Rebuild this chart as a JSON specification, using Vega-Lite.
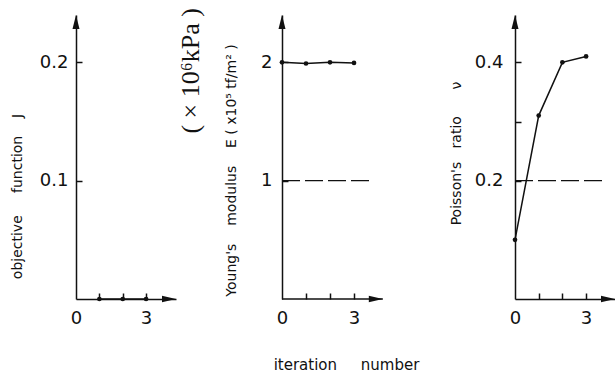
{
  "$schema": "https://vega.github.io/schema/vega-lite/v6.json",
  "padding": {"left": 10, "top": 8, "right": 0, "bottom": 0},
  "background": "white",
  "bounds": "flush",
  "spacing": 106,
  "datasets": {
    "J": [{"iteration": 1, "J": 0}, {"iteration": 2, "J": 0}, {"iteration": 3, "J": 0}],
    "E": [{"iteration": 0, "E": 2.0}, {"iteration": 1, "E": 1.99}, {"iteration": 2, "E": 2.0}, {"iteration": 3, "E": 1.995}],
    "nu": [{"iteration": 0, "nu": 0.10}, {"iteration": 1, "nu": 0.31}, {"iteration": 2, "nu": 0.40}, {"iteration": 3, "nu": 0.41}]
  },
  "config": {
    "view": {"stroke": null},
    "font": "DejaVu Sans",
    "axis": {
      "domainColor": "#111", "domainWidth": 1.5, "tickColor": "#111", "tickWidth": 1.5, "ticks": false, "tickSize": 0,
      "labelColor": "#111", "labelFont": "DejaVu Sans", "labelFontSize": 18,
      "titleColor": "#111", "titleFont": "DejaVu Sans", "titleFontWeight": "normal", "titleFontSize": 14,
      "grid": false, "labelFlush": false, "labelOverlap": false
    }
  },
  "hconcat": [
    {
      "width": 100, "height": 284,
      "resolve": {"axis": {"x": "independent", "y": "independent"}},
      "layer": [
        {
          "data": {"name": "J"},
          "mark": {"type": "line", "color": "#111", "strokeWidth": 1.5},
          "encoding": {
            "x": {"field": "iteration", "type": "quantitative", "scale": {"domain": [0, 4.28], "nice": false},
              "axis": {"orient": "bottom", "values": [0, 1, 2, 3], "labelExpr": "datum.value==0||datum.value==3?datum.label:''", "title": null, "labelPadding": 10}},
            "y": {"field": "J", "type": "quantitative", "scale": {"domain": [0, 0.24], "nice": false},
              "axis": {"orient": "left", "values": [0.1, 0.2], "format": ".1f", "labelPadding": 8,
                "title": "objective\u00a0\u00a0\u00a0\u00a0\u00a0function\u00a0\u00a0\u00a0\u00a0J", "titleX": -59, "titleY": 181, "titleBaseline": "middle", "titleAlign": "center", "titleAngle": -90}}
          }
        },
        {
          "data": {"name": "J"},
          "mark": {"type": "point", "filled": true, "color": "#111", "size": 22, "opacity": 1},
          "encoding": {
            "x": {"field": "iteration", "type": "quantitative",
              "axis": {"orient": "bottom", "offset": -6, "ticks": true, "tickSize": 6, "domain": false, "labels": false, "title": null, "values": [1, 2, 3]}},
            "y": {"field": "J", "type": "quantitative",
              "axis": {"orient": "left", "offset": -6, "ticks": true, "tickSize": 6, "domain": false, "labels": false, "title": null, "values": [0.1, 0.2]}}
          }
        },
        {
          "data": {"values": [{}]},
          "mark": {"type": "point", "shape": "M0,0 L0.5,2 L-0.5,2 Z", "filled": true, "color": "#111", "size": 196, "opacity": 1},
          "encoding": {"x": {"datum": 0, "type": "quantitative", "axis": null}, "y": {"datum": 0.24, "type": "quantitative", "axis": null}}
        },
        {
          "data": {"values": [{}]},
          "mark": {"type": "point", "shape": "M0,0 L-2,-0.45 L-2,0.45 Z", "filled": true, "color": "#111", "size": 196, "opacity": 1},
          "encoding": {"x": {"datum": 4.28, "type": "quantitative", "axis": null}, "y": {"datum": 0, "type": "quantitative", "axis": null}}
        }
      ]
    },
    {
      "width": 127, "height": 284,
      "title": {"text": "( × 10⁶kPa )", "orient": "left", "anchor": "end", "font": "Liberation Serif", "fontSize": 26, "fontWeight": "normal", "color": "#111", "offset": 20, "dx": 7},
      "resolve": {"axis": {"x": "independent", "y": "independent"}},
      "layer": [
        {
          "data": {"name": "E"},
          "mark": {"type": "line", "color": "#111", "strokeWidth": 1.5},
          "encoding": {
            "x": {"field": "iteration", "type": "quantitative", "scale": {"domain": [0, 5.29], "nice": false},
              "axis": {"orient": "bottom", "values": [0, 1, 2, 3], "labelExpr": "datum.value==0||datum.value==3?datum.label:''", "domain": false, "labelPadding": 10,
                "title": "iteration\u00a0\u00a0\u00a0\u00a0\u00a0number", "titleFontSize": 15, "titleX": 64, "titleY": 65, "titleBaseline": "middle", "titleAlign": "center", "titleAngle": 0}},
            "y": {"field": "E", "type": "quantitative", "scale": {"domain": [0, 2.4], "nice": false},
              "axis": {"orient": "left", "values": [1, 2], "format": "d", "labelPadding": 10,
                "title": "Young's\u00a0\u00a0\u00a0\u00a0modulus\u00a0\u00a0\u00a0\u00a0E\u00a0( x10⁵ tf/m² )", "titleX": -51, "titleY": 155, "titleBaseline": "middle", "titleAlign": "center", "titleAngle": -90}}
          }
        },
        {
          "data": {"name": "E"},
          "mark": {"type": "point", "filled": true, "color": "#111", "size": 22, "opacity": 1},
          "encoding": {
            "x": {"field": "iteration", "type": "quantitative",
              "axis": {"orient": "bottom", "offset": -6, "ticks": true, "tickSize": 6, "domain": false, "labels": false, "title": null, "values": [1, 2, 3]}},
            "y": {"field": "E", "type": "quantitative",
              "axis": {"orient": "left", "offset": -6, "ticks": true, "tickSize": 6, "domain": false, "labels": false, "title": null, "values": [1, 2]}}
          }
        },
        {
          "data": {"values": [{}]},
          "mark": {"type": "rule", "color": "#111", "strokeWidth": 1.5},
          "encoding": {"x": {"datum": 0, "type": "quantitative", "axis": null}, "x2": {"datum": 4.2}, "y": {"datum": 0, "type": "quantitative", "axis": null}}
        },
        {
          "data": {"values": [{}]},
          "mark": {"type": "rule", "color": "#111", "strokeWidth": 1.3, "strokeDash": [18, 5]},
          "encoding": {"x": {"datum": 0, "type": "quantitative", "axis": null}, "x2": {"datum": 3.67}, "y": {"datum": 1, "type": "quantitative", "axis": null}}
        },
        {
          "data": {"values": [{}]},
          "mark": {"type": "point", "shape": "M0,0 L0.5,2 L-0.5,2 Z", "filled": true, "color": "#111", "size": 196, "opacity": 1},
          "encoding": {"x": {"datum": 0, "type": "quantitative", "axis": null}, "y": {"datum": 2.4, "type": "quantitative", "axis": null}}
        },
        {
          "data": {"values": [{}]},
          "mark": {"type": "point", "shape": "M0,0 L-2,-0.45 L-2,0.45 Z", "filled": true, "color": "#111", "size": 196, "opacity": 1},
          "encoding": {"x": {"datum": 4.2, "type": "quantitative", "axis": null}, "y": {"datum": 0, "type": "quantitative", "axis": null}}
        }
      ]
    },
    {
      "width": 100, "height": 284,
      "resolve": {"axis": {"x": "independent", "y": "independent"}},
      "layer": [
        {
          "data": {"name": "nu"},
          "mark": {"type": "line", "color": "#111", "strokeWidth": 1.5},
          "encoding": {
            "x": {"field": "iteration", "type": "quantitative", "scale": {"domain": [0, 4.22], "nice": false},
              "axis": {"orient": "bottom", "values": [0, 1, 2, 3], "labelExpr": "datum.value==0||datum.value==3?datum.label:''", "title": null, "labelPadding": 10}},
            "y": {"field": "nu", "type": "quantitative", "scale": {"domain": [0, 0.48], "nice": false},
              "axis": {"orient": "left", "values": [0.2, 0.3, 0.4], "labelExpr": "abs(datum.value-0.3)<0.01?'':format(datum.value,'.1f')", "labelPadding": 12,
                "title": "Poisson's\u00a0\u00a0\u00a0ratio\u00a0\u00a0\u00a0\u00a0\u00a0\u00a0ν", "titleX": -59, "titleY": 138, "titleBaseline": "middle", "titleAlign": "center", "titleAngle": -90}}
          }
        },
        {
          "data": {"name": "nu"},
          "mark": {"type": "point", "filled": true, "color": "#111", "size": 22, "opacity": 1},
          "encoding": {
            "x": {"field": "iteration", "type": "quantitative",
              "axis": {"orient": "bottom", "offset": -6, "ticks": true, "tickSize": 6, "domain": false, "labels": false, "title": null, "values": [1, 2, 3]}},
            "y": {"field": "nu", "type": "quantitative",
              "axis": {"orient": "left", "offset": -6, "ticks": true, "tickSize": 6, "domain": false, "labels": false, "title": null, "values": [0.2, 0.3, 0.4]}}
          }
        },
        {
          "data": {"values": [{}]},
          "mark": {"type": "rule", "color": "#111", "strokeWidth": 1.3, "strokeDash": [18, 5]},
          "encoding": {"x": {"datum": 0, "type": "quantitative", "axis": null}, "x2": {"datum": 3.72}, "y": {"datum": 0.2, "type": "quantitative", "axis": null}}
        },
        {
          "data": {"values": [{}]},
          "mark": {"type": "point", "shape": "M0,0 L0.5,2 L-0.5,2 Z", "filled": true, "color": "#111", "size": 196, "opacity": 1},
          "encoding": {"x": {"datum": 0, "type": "quantitative", "axis": null}, "y": {"datum": 0.48, "type": "quantitative", "axis": null}}
        },
        {
          "data": {"values": [{}]},
          "mark": {"type": "point", "shape": "M0,0 L-2,-0.45 L-2,0.45 Z", "filled": true, "color": "#111", "size": 196, "opacity": 1},
          "encoding": {"x": {"datum": 4.22, "type": "quantitative", "axis": null}, "y": {"datum": 0, "type": "quantitative", "axis": null}}
        }
      ]
    }
  ]
}
